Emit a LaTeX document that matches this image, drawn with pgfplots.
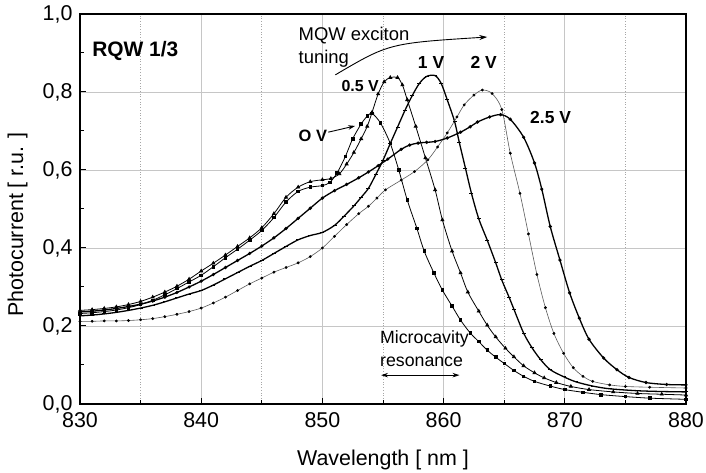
\documentclass[border=0pt]{standalone}
\usepackage{pgfplots}
\pgfplotsset{compat=1.18}
\usepackage{fontspec}
\setmainfont{Liberation Sans}
\usetikzlibrary{arrows.meta}

\begin{document}
\begin{tikzpicture}
\begin{axis}[
  name=ax,
  scale only axis,
  width=606bp, height=390bp,
  xmin=830, xmax=880, ymin=0, ymax=1,
  xtick={830,840,850,860,870,880},
  ytick={0,0.2,0.4,0.6,0.8,1.0},
  minor x tick num=1, minor y tick num=1,
  xtick pos=bottom, ytick pos=left,
  tick align=inside,
  major tick length=6bp, minor tick length=4bp,
  grid=major, xminorgrids=true,
  major grid style={gray!45, line width=0.8bp},
  minor grid style={gray!70, line width=0.7bp, dotted},
  axis line style={line width=1.4bp},
  every tick/.style={black, line width=1bp},
  tick label style={font=\fontsize{21.5}{25}\selectfont},
  label style={font=\fontsize{21.5}{25}\selectfont},
  /pgf/number format/assume math mode=true,
  yticklabel style={xshift=-4bp, /pgf/number format/.cd, use comma, fixed, fixed zerofill, precision=1},
  xticklabel style={yshift=-5bp, /pgf/number format/.cd, 1000 sep={}},
  xlabel={Wavelength [ nm ]},
  ylabel={Photocurrent [ r.u. ]},
  xlabel style={at={(axis description cs:0.5,-0.143)}, anchor=center},
  ylabel style={at={(axis description cs:-0.103,0.46)}, anchor=center},
]

% 0 V
\addplot[black, line width=0.8bp, smooth, tension=0.5, mark=square*, mark size=1.3bp, mark options={solid}] table {
830 0.232
831 0.234
832 0.237
833 0.241
834 0.247
835 0.255
836 0.266
837 0.280
838 0.296
839 0.313
840 0.330
841 0.352
842 0.375
843 0.397
844 0.420
845 0.445
846 0.478
847 0.518
848 0.545
849 0.556
850 0.560
850.6 0.568
851.2 0.592
851.9 0.635
852.5 0.680
853.2 0.718
853.7 0.738
854.1 0.745
854.8 0.720
855.6 0.668
856.3 0.600
857.0 0.523
857.8 0.450
858.4 0.392
859.2 0.336
859.9 0.292
860.7 0.251
861.4 0.215
862.2 0.182
862.9 0.160
863.6 0.138
864.3 0.120
865.0 0.104
865.8 0.086
866.6 0.071
867.5 0.058
868.8 0.046
870 0.037
871.5 0.030
873 0.024
875 0.019
877 0.015
880 0.012
};

% 0.5 V
\addplot[black, line width=0.8bp, smooth, tension=0.5, mark=triangle*, mark size=1.7bp, mark options={solid}] table {
830 0.240
831 0.242
832 0.245
833 0.249
834 0.255
835 0.263
836 0.274
837 0.287
838 0.302
839 0.320
840 0.341
841 0.361
842 0.382
843 0.404
844 0.426
845 0.452
846 0.488
847 0.530
848 0.556
849 0.570
850 0.575
850.7 0.578
851.4 0.590
852.0 0.615
852.6 0.645
853.2 0.680
853.7 0.712
854.1 0.748
854.6 0.795
855.1 0.826
855.6 0.837
856.2 0.837
856.6 0.818
857.0 0.780
857.7 0.712
858.5 0.631
859.3 0.549
859.9 0.472
860.7 0.392
861.4 0.336
862.0 0.287
862.9 0.238
863.6 0.202
864.3 0.172
865.1 0.143
865.8 0.121
866.6 0.098
867.5 0.080
868.3 0.067
869.3 0.055
870.5 0.045
872 0.037
874 0.031
876 0.027
878 0.025
880 0.023
};

% 1 V
\addplot[black, line width=1.3bp, smooth, tension=0.5, mark=-, mark size=2bp, mark options={solid, line width=1bp}] table {
830 0.226
831 0.228
832 0.231
833 0.235
834 0.240
835 0.246
836 0.253
837 0.262
838 0.272
839 0.282
840 0.291
841 0.305
842 0.321
843 0.337
844 0.353
845 0.368
846 0.386
847 0.404
848 0.421
849 0.432
850 0.440
851 0.458
851.8 0.482
852.6 0.508
853.2 0.530
853.8 0.553
854.4 0.588
855.0 0.625
855.6 0.668
856.2 0.710
856.8 0.752
857.4 0.790
858.0 0.822
858.6 0.840
859.3 0.842
859.8 0.822
860.3 0.780
860.9 0.725
861.3 0.670
861.8 0.605
862.3 0.540
862.9 0.475
863.6 0.420
864.3 0.362
864.8 0.318
865.4 0.274
865.8 0.243
866.6 0.182
867.3 0.144
868.0 0.114
868.8 0.088
869.9 0.070
870.9 0.057
872.3 0.046
873.7 0.039
876 0.034
878 0.032
880 0.031
};

% 2 V
\addplot[black!65, line width=0.6bp, smooth, tension=0.5, mark=*, mark size=1.1bp, mark options={solid, black}] table {
830 0.212
831 0.212
832 0.213
833 0.213
834 0.214
835 0.216
836 0.219
837 0.224
838 0.230
839 0.237
840 0.246
841 0.259
842 0.274
843 0.291
844 0.308
845 0.323
846 0.338
847 0.350
848 0.362
849 0.378
850 0.400
851 0.430
852 0.460
853 0.488
853.8 0.507
854.5 0.528
855.2 0.549
856.5 0.574
857.6 0.596
858.7 0.626
859.5 0.659
860.3 0.695
861.1 0.736
861.7 0.767
862.5 0.792
863.2 0.805
864.0 0.796
864.8 0.755
865.5 0.643
866.3 0.540
867.0 0.436
867.7 0.332
868.4 0.247
869.1 0.181
869.9 0.130
870.7 0.093
871.5 0.071
872.3 0.058
873.7 0.049
875 0.045
877 0.043
880 0.041
};

% 2.5 V
\addplot[black, line width=1.3bp, smooth, tension=0.5, mark=*, mark size=0.9bp, mark options={solid}] table {
830 0.236
831 0.238
832 0.241
833 0.245
834 0.250
835 0.256
836 0.264
837 0.274
838 0.286
839 0.300
840 0.315
841 0.332
842 0.350
843 0.368
844 0.386
845 0.405
846 0.426
847 0.450
848 0.476
849 0.502
850 0.528
851 0.547
852 0.563
853 0.580
853.8 0.595
854.6 0.611
855.4 0.628
856.5 0.653
857.2 0.664
857.9 0.669
858.6 0.671
859.3 0.673
860.3 0.682
861.4 0.697
862.2 0.711
862.8 0.723
863.8 0.736
864.7 0.742
865.5 0.730
866.6 0.684
867.5 0.618
868.1 0.551
868.8 0.455
869.6 0.369
870.4 0.285
871.2 0.220
872.0 0.166
873.2 0.118
874.3 0.088
875.3 0.068
876.7 0.055
878.4 0.050
880 0.049
};

% annotations
\node[anchor=base west, inner sep=0pt, font=\bfseries\fontsize{21}{24}\selectfont] at (axis cs:831.0,0.89) {RQW 1/3};
\node[anchor=base west, inner sep=0pt, font=\fontsize{18.5}{22}\selectfont] at (axis cs:848.03,0.933) {MQW exciton};
\node[anchor=base west, inner sep=0pt, font=\fontsize{18.5}{22}\selectfont] at (axis cs:848.03,0.874) {tuning};
\draw[line width=0.9bp, -{Stealth[length=8bp,width=5bp]}] (axis cs:851.07,0.844) .. controls (axis cs:855.5,0.925) .. (axis cs:863.6,0.941);
\node[anchor=base west, inner sep=0pt, font=\bfseries\fontsize{16}{19}\selectfont] at (axis cs:851.56,0.801) {0.5 V};
\node[anchor=base west, inner sep=0pt, font=\bfseries\fontsize{16.5}{19}\selectfont] at (axis cs:848.03,0.673) {O V};
\draw[line width=0.9bp, -{Stealth[length=7bp,width=4.5bp]}] (axis cs:850.49,0.697) -- (axis cs:852.7,0.713);
\node[anchor=base west, inner sep=0pt, font=\bfseries\fontsize{17.5}{20}\selectfont] at (axis cs:857.87,0.861) {1 V};
\node[anchor=base west, inner sep=0pt, font=\bfseries\fontsize{17.5}{20}\selectfont] at (axis cs:862.21,0.861) {2 V};
\node[anchor=base west, inner sep=0pt, font=\bfseries\fontsize{17.5}{20}\selectfont] at (axis cs:867.13,0.718) {2.5 V};
\node[anchor=base west, inner sep=0pt, font=\fontsize{17.8}{21}\selectfont] at (axis cs:854.75,0.156) {Microcavity};
\node[anchor=base west, inner sep=0pt, font=\fontsize{17.8}{21}\selectfont] at (axis cs:854.75,0.095) {resonance};
\draw[line width=0.9bp, {Stealth[length=7bp,width=4.5bp]}-{Stealth[length=7bp,width=4.5bp]}] (axis cs:854.84,0.074) -- (axis cs:861.31,0.074);
\end{axis}
\pgfresetboundingbox
\path[use as bounding box] ([shift={(-80bp,-69bp)}]ax.south west) rectangle ([shift={(20bp,14bp)}]ax.north east);
\end{tikzpicture}
\end{document}
